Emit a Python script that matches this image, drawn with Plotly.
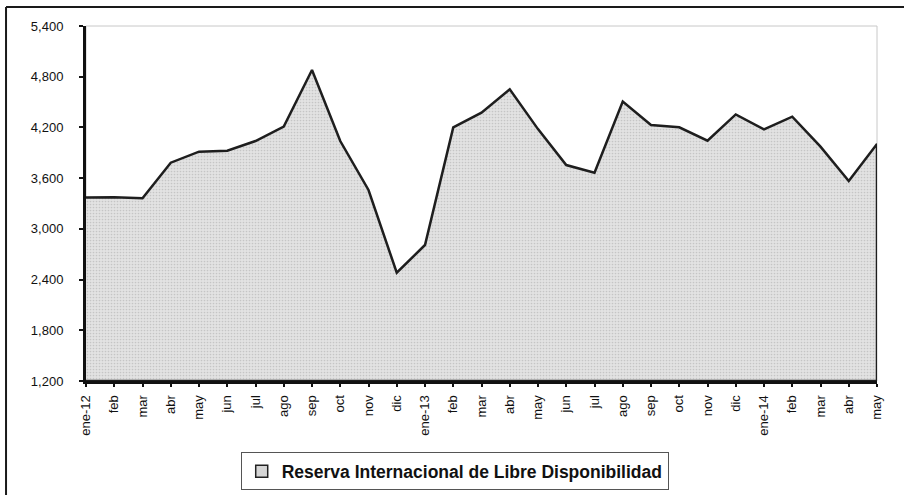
import plotly.graph_objects as go

months = [
    "ene-12", "feb", "mar", "abr", "may", "jun", "jul", "ago", "sep", "oct", "nov", "dic",
    "ene-13", "feb", "mar", "abr", "may", "jun", "jul", "ago", "sep", "oct", "nov", "dic",
    "ene-14", "feb", "mar", "abr", "may",
]
rild = [
    3370, 3375, 3362, 3783, 3913, 3925, 4039, 4209, 4879, 4039, 3460, 2481,
    2809, 4201, 4374, 4651, 4180, 3755, 3664, 4505, 4228, 4201, 4043, 4354,
    4177, 4327, 3972, 3566, 4004,
]
series_name = "Reserva Internacional de Libre Disponibilidad"
y_min, y_max, y_step = 1200, 5400, 600

font = "Liberation Sans, Arial, sans-serif"
idx = list(range(len(months)))

fig = go.Figure()

# closed polygon so the outline also runs down the right edge, like the Excel area
fig.add_trace(go.Scatter(
    x=idx + [idx[-1], idx[0]],
    y=rild + [y_min, y_min],
    mode="lines",
    fill="toself",
    fillcolor="#dcdcdc",
    fillpattern=dict(shape=".", bgcolor="#e2e2e2", fgcolor="#a8a8a8", size=3, solidity=0.25),
    line=dict(color="#1e1e1e", width=2.5),
    showlegend=False,
    hoverinfo="skip",
))

# legend entry only (square swatch)
fig.add_trace(go.Bar(
    x=[None], y=[None],
    name=series_name,
    marker=dict(color="#d6d6d6", line=dict(color="#222222", width=1.5)),
    showlegend=True,
))

fig.update_xaxes(
    range=[0, len(months) - 1],
    tickvals=idx,
    ticktext=months,
    tickangle=-90,
    tickfont=dict(family=font, size=13, color="#111111"),
    ticklabelstandoff=3,
    showline=True, linecolor="#111111", linewidth=3,
    ticks="outside", ticklen=3, tickwidth=2, tickcolor="#111111",
    showgrid=False, zeroline=False,
    automargin=False,
)
fig.update_yaxes(
    range=[y_min, y_max],
    tickvals=list(range(y_min, y_max + 1, y_step)),
    tickformat=",d",
    tickfont=dict(family=font, size=13, color="#111111"),
    ticklabelstandoff=13,
    showline=True, linecolor="#111111", linewidth=3,
    ticks="outside", ticklen=4, tickwidth=2, tickcolor="#111111",
    showgrid=False, zeroline=False,
    automargin=False,
)

# light plot-area border (top/right)
fig.add_shape(type="rect", xref="x domain", yref="y domain", x0=0, x1=1, y0=0, y1=1,
              line=dict(color="#c8c8c8", width=1), layer="below")
# outer chart frame: only top and left edges fall inside the picture
fig.add_shape(type="line", xref="paper", yref="paper", x0=-0.1011, x1=1.1, y0=1.0535, y1=1.0535,
              line=dict(color="#1a1a1a", width=2))
fig.add_shape(type="line", xref="paper", yref="paper", x0=-0.1011, x1=-0.1011, y0=-0.33, y1=1.0535,
              line=dict(color="#1a1a1a", width=2))

fig.update_layout(
    width=904, height=495,
    margin=dict(l=86, r=27, t=26, b=114),
    paper_bgcolor="white",
    plot_bgcolor="white",
    font=dict(family=font, color="#111111"),
    showlegend=True,
    legend=dict(
        orientation="h",
        xref="container", yref="container",
        x=0.503, xanchor="center",
        y=0.086, yanchor="top",
        bordercolor="#555555", borderwidth=1,
        font=dict(family=font, size=17.5, color="#111111", weight="bold"),
        itemwidth=30,
    ),
)

fig.write_html(
    "out.html",
    config={"displayModeBar": False},
    post_script="document.body.style.margin='0';document.body.style.overflow='hidden';",
)
